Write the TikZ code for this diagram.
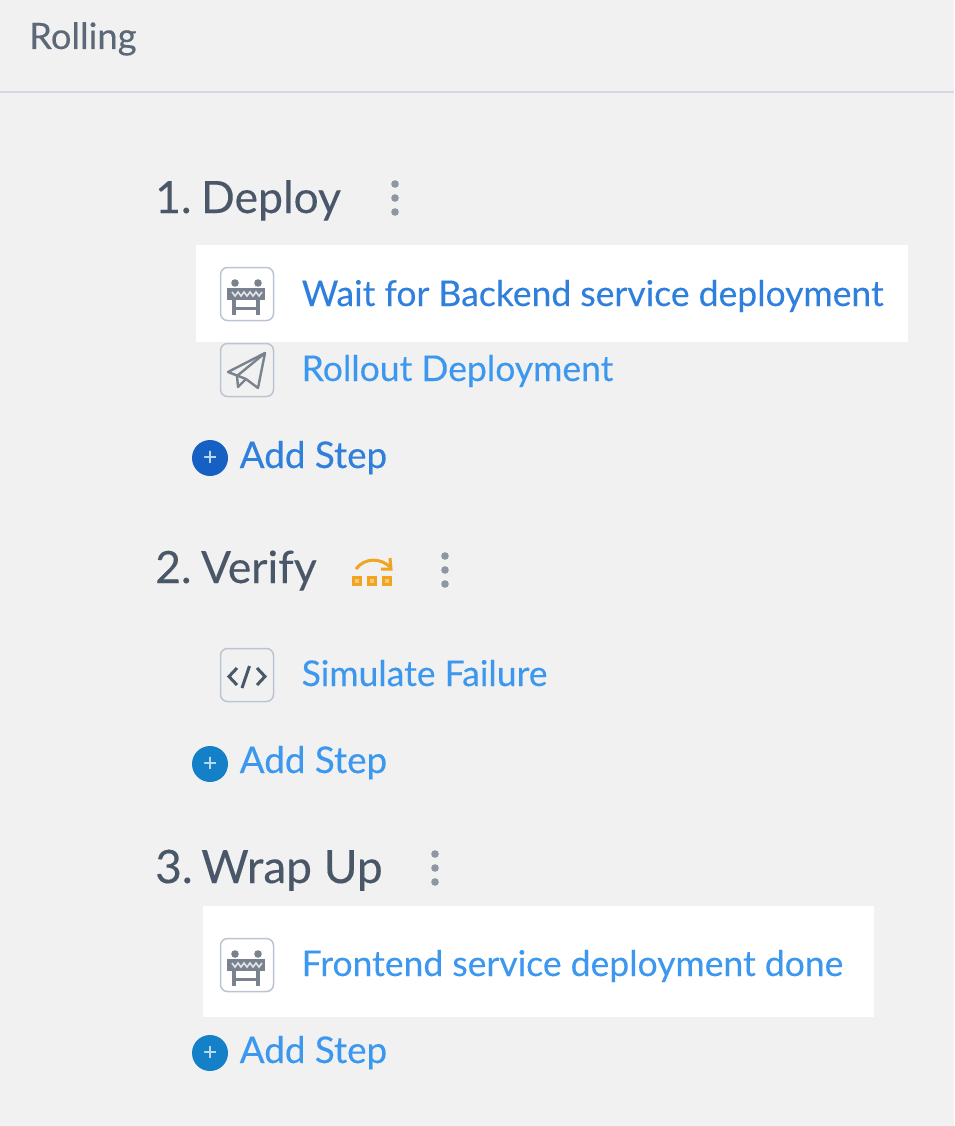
\documentclass[tikz,border=0pt]{standalone}
\usepackage{fontspec}
\setmainfont{Lato}[FakeBold=0.2]
\usetikzlibrary{calc}
\definecolor{pagebg}{HTML}{F1F1F1}
\definecolor{rulegrey}{HTML}{D5D8E0}
\definecolor{headtxt}{HTML}{4A5768}
\definecolor{linkblue}{HTML}{3C98EE}
\definecolor{linkdark}{HTML}{2F7FDC}
\definecolor{iconedge}{HTML}{BCC4CF}
\definecolor{icongrey}{HTML}{7A8290}
\definecolor{dotgrey}{HTML}{8E96A3}
\definecolor{addblue}{HTML}{1380C8}
\definecolor{adddark}{HTML}{1660C4}
\definecolor{skiporange}{HTML}{F2A31F}
\tikzset{
	iconbox/.pic = {
		\draw [iconedge, line width=1.5pt, rounded corners=7pt] (-26.5,-26.5) rectangle (26.5,26.5);
	}
}
\tikzset{
	barrier/.pic = {
		\fill [icongrey] (-12,-12) circle (3.8pt);
		\fill [icongrey] (11,-12) circle (3.8pt);
		\draw [icongrey, line width=4.4pt] (-13,-3) -- (-13,20);
		\draw [icongrey, line width=4.4pt] (11,-3) -- (11,20);
		\draw [icongrey, line width=3pt] (-13,13) -- (11,13);
		\fill [icongrey] (-20,-7) rectangle (18,5);
		\draw [white!80!icongrey, line width=1.6pt] (-15,-3) -- (-12,1) -- (-9,-3) -- (-6,1) -- (-3,-3) -- (0,1) -- (3,-3) -- (6,1) -- (9,-3) -- (12,1) -- (15,-3);
	}
}
\tikzset{
	plane/.pic = {
		\draw [icongrey, line width=2.4pt, line join=round] (-19,2) -- (18,-17) -- (11,18) -- (-1,9) -- cycle;
		\draw [icongrey, line width=2.4pt, line join=round] (18,-17) -- (-10,6) -- (-9,17) -- (-1,9);
	}
}
\tikzset{
	codemark/.pic = {
		\draw [headtxt, line width=3pt] (-10,-7) -- (-18,1.5) -- (-10,10);
		\draw [headtxt, line width=3pt] (10,-7) -- (18,1.5) -- (10,10);
		\draw [headtxt, line width=3pt] (2.5,-9) -- (-5,13);
	}
}
\tikzset{
	skipmark/.pic = {
		\foreach \i in {-16,-1,14} {
			\fill [skiporange] (\i-5,5) rectangle (\i+5,15);
			\fill [skiporange!60!white] (\i-1.8,8.2) rectangle (\i+1.8,11.8);
		}
		\draw [skiporange, line width=3pt] (-17,-2) .. controls (-8,-14) and (8,-13) .. (17,-4);
		\draw [skiporange, line width=3pt] (17,-13) -- (18,-2) -- (8,-2);
	}
}
\tikzset{
	kebab/.pic = {
		\fill [dotgrey] (0,-14) circle (3.8pt);
		\fill [dotgrey] (0,0) circle (3.8pt);
		\fill [dotgrey] (0,14) circle (3.8pt);
	}
}
\tikzstyle{phase} = [anchor=base west, inner sep=0pt, text=headtxt, font=\fontsize{44.5}{52}\selectfont]
\tikzstyle{stepname} = [anchor=base west, inner sep=0pt, text=linkblue, font=\fontsize{35.5}{42}\selectfont]
\tikzstyle{addname} = [stepname, text=linkblue, font=\fontsize{36.8}{44}\selectfont]
\tikzstyle{addcircle} = [circle, fill=addblue, text=white!70!addblue, minimum size=36pt, inner sep=0pt, font=\fontsize{24}{24}\selectfont]
\tikzstyle{hilite} = [fill=white, draw=none]

\begin{document}
\begin{tikzpicture}[x=1pt, y=-1pt]

	\useasboundingbox [fill=pagebg] (0,0) rectangle (954,1126);

	\node [phase, text=headtxt!90, font=\fontsize{36.4}{42}\selectfont] (rolling) at (29,49) {Rolling};
	\draw [rulegrey, line width=1.6pt] (0,92) -- (954,92);

	\fill [hilite] (196,245) rectangle (908,342);
	\fill [hilite] (203,906) rectangle (874,1017);

	\node [phase] (deploy) at (155,213) {1.\hspace{9.5pt}Deploy};
	\path (395,198) pic{kebab};
	\path (247,294) pic{iconbox};
	\path (247,295) pic{barrier};
	\node [stepname, text=linkdark] (waitbackend) at (301.5,306) {Wait for Backend service deployment};
	\path (247,370) pic{iconbox};
	\path (247,370) pic{plane};
	\node [stepname] (rollout) at (301.5,381) {Rollout Deployment};
	\node [addcircle, fill=adddark] (addone) at (210,458) {+};
	\node [addname, text=linkdark] (addonetxt) at (239.5,468) {Add Step};

	\node [phase] (verify) at (155,583) {2.\hspace{9.5pt}Verify};
	\path (373,571) pic{skipmark};
	\path (445,570) pic{kebab};
	\path (247,675) pic{iconbox};
	\path (247,675) pic{codemark};
	\node [stepname] (simulate) at (301.5,686) {Simulate Failure};
	\node [addcircle] (addtwo) at (210,764) {+};
	\node [addname] (addtwotxt) at (239.5,773) {Add Step};

	\node [phase, font=\fontsize{46}{52}\selectfont] (wrapup) at (155,883) {3.\hspace{8.5pt}Wrap Up};
	\path (435,868) pic{kebab};
	\path (247,965) pic{iconbox};
	\path (247,966) pic{barrier};
	\node [stepname] (frontend) at (301.5,976) {Frontend service deployment done};
	\node [addcircle] (addthree) at (210,1053) {+};
	\node [addname] (addthreetxt) at (239.5,1063) {Add Step};

\end{tikzpicture}
\end{document}
